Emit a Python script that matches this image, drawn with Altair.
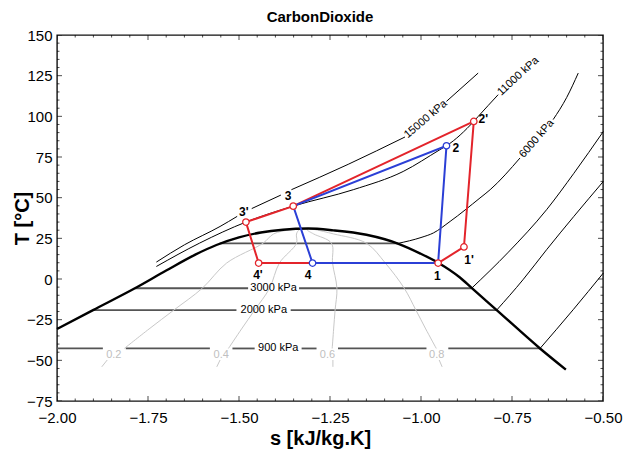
import altair as alt
import pandas as pd

FONT = "Liberation Sans"

# ---------------- values ----------------
# saturation dome
dome_s = [-2.000, -1.901, -1.786, -1.700, -1.620, -1.562, -1.500, -1.440, -1.379, -1.310,
          -1.241, -1.150, -1.060, -1.003, -0.953, -0.893, -0.861, -0.792, -0.673, -0.602]
dome_T = [-30.7, -19.1, -5.7, 5.2, 15.0, 20.9, 25.6, 28.6, 30.3, 31.0,
          29.9, 27.2, 21.5, 15.8, 10.0, 0.9, -5.5, -19.1, -42.7, -55.7]

# two-phase (horizontal) isobar pieces, split where labels sit
iso_flat_T = [21.9, -5.7, -19.1, -42.7]
iso_flat_pieces = [
    [(-1.553, -1.063)],
    [(-1.786, -1.475), (-1.335, -0.861)],
    [(-1.901, -1.507), (-1.358, -0.792)],
    [(-2.000, -1.874), (-1.811, -1.580), (-1.518, -1.457), (-1.328, -1.287),
     (-1.228, -0.985), (-0.925, -0.673)],
]

# superheated / supercritical isobars (pieces split at their labels)
p6000a_s = [-1.063, -1.000, -0.966, -0.920, -0.838, -0.810, -0.728]
p6000a_T = [21.9, 25.5, 28.3, 35.4, 49.8, 54.9, 74.4]
p6000b_s = [-0.637, -0.600, -0.568]
p6000b_T = [98.0, 111.5, 126.6]
p3000_s = [-0.861, -0.760, -0.655, -0.580, -0.499]
p3000_T = [-5.7, 16.5, 42.6, 65.0, 90.7]
p2000_s = [-0.792, -0.720, -0.655, -0.580, -0.499]
p2000_T = [-19.1, -0.5, 18.0, 38.5, 60.0]
p900_s = [-0.673, -0.582, -0.499]
p900_T = [-42.7, -18.9, 3.7]
p15000a_s = [-1.727, -1.650, -1.552, -1.505]
p15000a_T = [10.4, 21.0, 32.3, 38.5]
p15000b_s = [-1.465, -1.385]
p15000b_T = [43.3, 51.6]
p15000c_s = [-1.356, -1.200, -1.044]
p15000c_T = [54.9, 70.5, 87.3]
p15000d_s = [-0.930, -0.843]
p15000d_T = [109.2, 126.6]
p11000_s = [-1.727, -1.608, -1.481, -1.351, -1.186, -1.049, -0.948, -0.930, -0.855, -0.843, -0.788]
p11000_T = [7.7, 22.1, 35.0, 44.8, 54.9, 66.1, 79.5, 81.9, 96.9, 99.9, 113.3]

# quality lines (upper parts) and short lower parts
q_T = [-42.7, -30.7, -19.1, -5.7, 9.8, 22.0, 27.7, 30.3, 31.0]
q02_s = [-1.815, -1.747, -1.679, -1.601, -1.534, -1.434, -1.405, -1.358, -1.310]
q04_s = [-1.529, -1.493, -1.457, -1.416, -1.389, -1.342, -1.342, -1.334, -1.310]
q06_s = [-1.244, -1.240, -1.236, -1.231, -1.243, -1.246, -1.295, -1.313, -1.310]
q08_s = [-0.958, -0.987, -1.014, -1.046, -1.098, -1.150, -1.240, -1.290, -1.310]
qlow_T = [-54.0, -49.8]
q02_low = [-1.877, -1.862]
q04_low = [-1.561, -1.552]
q06_low = [-1.242, -1.242]
q08_low = [-0.942, -0.950]
q_labels = ["0.2", "0.4", "0.6", "0.8"]
q_label_s = [-1.844, -1.549, -1.257, -0.957]
q_label_T = [-46.6, -46.6, -46.6, -46.6]

# cycle state points
pt_names = ["1", "1'", "2", "2'", "3", "3'", "4'", "4"]
pt_s = [-0.953, -0.882, -0.930, -0.855, -1.351, -1.481, -1.446, -1.298]
pt_T = [9.8, 19.7, 81.9, 96.9, 44.8, 35.0, 9.8, 9.8]
pt_color = ["red", "red", "blue", "red", "red", "red", "red", "blue"]
blue_path = ["4", "1", "2", "3", "4"]
red_path = ["1", "1'", "2'", "3", "3'", "4'", "4"]
lab_s = [-0.955, -0.868, -0.904, -0.829, -1.365, -1.487, -1.448, -1.310]
lab_T = [2.1, 11.4, 80.5, 98.5, 50.8, 40.9, 2.2, 2.2]

# isobar labels
iso_text = ["3000 kPa", "2000 kPa", "900 kPa", "15000 kPa", "11000 kPa", "6000 kPa"]
iso_s = [-1.405, -1.432, -1.392, -0.987, -0.733, -0.682]
iso_T = [-5.7, -19.1, -42.7, 98.2, 124.6, 86.2]
iso_angle = [0, 0, 0, 319.5, 317.5, 311]

# axis ticks
x_major = [-2.00, -1.75, -1.50, -1.25, -1.00, -0.75, -0.50]
y_major = [-75, -50, -25, 0, 25, 50, 75, 100, 125, 150]

# ---------------- build tables ----------------
def rows_of(grp, s_list, t_list):
    return [dict(s=s, T=t, grp=grp, i=k) for k, (s, t) in enumerate(zip(s_list, t_list))]

flat_rows = []
for n, (t, pieces) in enumerate(zip(iso_flat_T, iso_flat_pieces)):
    for m, (a, b) in enumerate(pieces):
        flat_rows += rows_of(f"f{n}_{m}", [a, b], [t, t])
flat_df = pd.DataFrame(flat_rows)

dome_df = pd.DataFrame(rows_of("dome", dome_s, dome_T))

sh_rows = []
for g, ss, tt in [("p6000a", p6000a_s, p6000a_T), ("p6000b", p6000b_s, p6000b_T),
                  ("p3000", p3000_s, p3000_T), ("p2000", p2000_s, p2000_T),
                  ("p900", p900_s, p900_T), ("p15000a", p15000a_s, p15000a_T),
                  ("p15000b", p15000b_s, p15000b_T), ("p15000c", p15000c_s, p15000c_T),
                  ("p15000d", p15000d_s, p15000d_T), ("p11000", p11000_s, p11000_T)]:
    sh_rows += rows_of(g, ss, tt)
sh_df = pd.DataFrame(sh_rows)

q_rows = []
for g, ss in [("q02", q02_s), ("q04", q04_s), ("q06", q06_s), ("q08", q08_s)]:
    q_rows += rows_of(g, ss, q_T)
for g, ss in [("q02l", q02_low), ("q04l", q04_low), ("q06l", q06_low), ("q08l", q08_low)]:
    q_rows += rows_of(g, ss, qlow_T)
q_df = pd.DataFrame(q_rows)
q_lab_df = pd.DataFrame(dict(s=q_label_s, T=q_label_T, txt=q_labels))

pos = {n: (s, t) for n, s, t in zip(pt_names, pt_s, pt_T)}
blue_df = pd.DataFrame(rows_of("blue", [pos[n][0] for n in blue_path], [pos[n][1] for n in blue_path]))
red_df = pd.DataFrame(rows_of("red", [pos[n][0] for n in red_path], [pos[n][1] for n in red_path]))
pts_df = pd.DataFrame(dict(s=pt_s, T=pt_T, c=pt_color))
lab_df = pd.DataFrame(dict(s=lab_s, T=lab_T, txt=pt_names))
iso_df = pd.DataFrame(dict(s=iso_s, T=iso_T, txt=iso_text, ang=iso_angle))

x_minor = [round(-2.0 + 0.05 * k, 2) for k in range(31)]
y_minor = [-75 + 5 * k for k in range(46)]
xt_rows = []
for v in x_minor:
    ln = 10 if any(abs(v - m) < 1e-9 for m in x_major) else 5
    xt_rows += [dict(s=v, T=-75, ln=ln), dict(s=v, T=150, ln=ln)]
yt_rows = []
for v in y_minor:
    ln = 10 if v in y_major else 5
    yt_rows += [dict(s=-2.0, T=v, ln=ln), dict(s=-0.5, T=v, ln=ln)]
xt_df = pd.DataFrame(xt_rows)
yt_df = pd.DataFrame(yt_rows)

# ---------------- encodings ----------------
xaxis = alt.Axis(values=x_major, format=".2f", title="s [kJ/kg.K]", domain=False, ticks=False,
                 grid=False, labelFlush=False, labelFontSize=15, labelFont=FONT,
                 labelColor="black", labelPadding=9,
                 titleFontSize=20, titleFont=FONT, titleFontWeight="bold", titleColor="black",
                 titleX=263, titleY=43, titleBaseline="alphabetic", titleAnchor="start",
                 titleAlign="center")
yaxis = alt.Axis(values=y_major, format="d", title="T [°C]", domain=False, ticks=False,
                 grid=False, labelFlush=False, labelFontSize=15, labelFont=FONT,
                 labelColor="black", labelPadding=5,
                 titleFontSize=20, titleFont=FONT, titleFontWeight="bold", titleColor="black",
                 titleAngle=270, titleX=-29, titleY=183, titleBaseline="alphabetic",
                 titleAlign="center")
X = alt.X("s:Q", scale=alt.Scale(domain=[-2.0, -0.5], nice=False, zero=False, padding=0), axis=xaxis)
Y = alt.Y("T:Q", scale=alt.Scale(domain=[-75, 150], nice=False, zero=False, padding=0), axis=yaxis)

flat = alt.Chart(flat_df).mark_line(color="#555555", strokeWidth=1.8).encode(
    X, Y, detail="grp:N", order="i:Q")
qual = alt.Chart(q_df).mark_line(color="#c8c8c8", strokeWidth=1, interpolate="catmull-rom").encode(
    X, Y, detail="grp:N", order="i:Q")
qlab = alt.Chart(q_lab_df).mark_text(font=FONT, fontSize=11, color="#c0c0c0").encode(X, Y, text="txt:N")
dome = alt.Chart(dome_df).mark_line(color="black", strokeWidth=2.4, interpolate="monotone").encode(
    X, Y, order="i:Q")
sh = alt.Chart(sh_df).mark_line(color="black", strokeWidth=1, interpolate="monotone").encode(
    X, Y, detail="grp:N", order="i:Q")
red = alt.Chart(red_df).mark_line(color="#e3242b", strokeWidth=2).encode(X, Y, order="i:Q")
blue = alt.Chart(blue_df).mark_line(color="#2b3fd6", strokeWidth=2).encode(X, Y, order="i:Q")
pts = alt.Chart(pts_df).mark_point(shape="circle", filled=True, fill="white", size=42,
                                   strokeWidth=1.3, opacity=1).encode(
    X, Y, stroke=alt.Stroke("c:N", scale=alt.Scale(domain=["red", "blue"], range=["#e3242b", "#2b3fd6"]), legend=None))
labs = alt.Chart(lab_df).mark_text(font=FONT, fontSize=12, fontWeight="bold", color="black").encode(
    X, Y, text="txt:N")
isol = alt.Chart(iso_df).mark_text(font=FONT, fontSize=11, color="black").encode(
    X, Y, text="txt:N", angle=alt.Angle("ang:Q", scale=None))
xt = alt.Chart(xt_df).mark_tick(orient="vertical", thickness=1, color="black", clip=True).encode(
    X, Y, size=alt.Size("ln:Q", scale=None))
yt = alt.Chart(yt_df).mark_tick(orient="horizontal", thickness=1, color="black", clip=True).encode(
    X, Y, size=alt.Size("ln:Q", scale=None))

chart = alt.layer(flat, qual, qlab, dome, sh, red, blue, pts, labs, isol, xt, yt).properties(
    width=546, height=366,
    padding={"left": 49, "top": 27, "right": 29, "bottom": 51},
    autosize=alt.AutoSizeParams(type="none"),
    title=alt.TitleParams("CarbonDioxide", font=FONT, fontSize=15, fontWeight="bold",
                          color="black", anchor="middle", dx=-10, dy=6, offset=9),
).configure_view(stroke="#111111", strokeWidth=1.4)

chart.save("out.html", embed_options={"renderer": "svg", "actions": False})
